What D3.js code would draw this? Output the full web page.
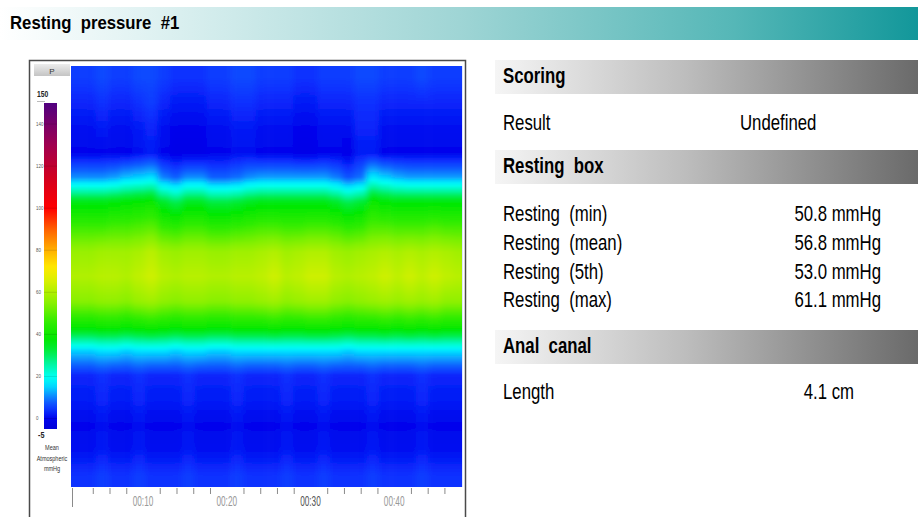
<!DOCTYPE html>
<html><head><meta charset="utf-8">
<script src="https://cdn.jsdelivr.net/npm/d3@7"></script>
<style>body{margin:0;background:#fff;} svg{display:block;font-family:"Liberation Sans",Arial,sans-serif;}</style>
</head><body><svg id="c" width="918" height="517"></svg>
<script>
// ---------- DATA ----------
const title = "Resting  pressure  #1";
// column sample times (s)
const times = [2.1,3.6,5.1,6.6,8.0,9.5,11.0,12.5,13.9,15.4,16.9,18.3,19.8,21.3,22.7,24.2,25.7,27.2,28.6,30.1,31.6,33.0,34.5,36.0,37.4,38.9,40.4,41.9,43.3,44.8,46.3,47.7];
const timeStart = 1.4, timeEnd = 48.1;
// sensor numbers, top (proximal) to bottom
const sensors = [1,2,3,4,5,6,7,8,9,10,11,12,13,14,15,16,17];
// pressure (mmHg) per sensor row, one value per time column
const pressure = [
 [5,5,6,5,5,6,6,5,4,4,4,5,5,6,6,5,5,5,4,4,5,5,5,6,6,5,5,5,6,5,5,5],
 [3,3,4,3,3,4,5,3,2,2,2,3,3,4,4,3,3,3,2,2,3,3,3,4,4,3,3,3,3,3,3,3],
 [1,1,2,1,1,2,3,1,0,0,0,1,1,2,2,1,1,1,0,0,1,1,1,3,3,1,1,1,1,1,1,1],
 [0,0,0,0,0,1,2,0,-1,-1,-1,0,0,1,1,0,0,0,-1,-1,0,0,-1,2,2,0,0,0,0,0,0,0],
 [11,11,11,12,14,15,16,10,8,11,11,8,8,9,11,12,12,12,12,12,12,10,7,9,17,15,13,12,12,12,12,12],
 [36,36,36,37,38,39,40,34,31,35,35,32,32,33,35,36,36,36,36,36,36,34,31,33,40,38,37,37,37,37,37,37],
 [47,47,47,48,48,49,50,46,45,47,47,45,45,46,47,48,48,47,47,48,48,47,45,46,49,49,48,48,48,49,48,48],
 [57,57,58,58,58,59,61,58,57,58,58,57,57,58,58,59,60,58,59,60,60,58,57,58,59,60,59,60,59,60,59,58],
 [60,60,61,61,60,62,64,61,60,61,61,60,60,61,61,62,64,61,62,64,64,61,60,61,62,64,62,64,62,64,62,61],
 [55,55,56,56,55,57,58,56,55,56,56,55,55,56,56,57,58,56,57,58,58,56,55,56,57,58,57,58,57,58,56,56],
 [40,40,41,41,40,41,42,41,40,41,41,40,40,41,41,41,42,41,41,42,42,41,40,41,41,42,41,42,41,42,41,41],
 [15,15,16,16,15,16,16,16,15,16,16,15,15,16,16,16,16,16,16,16,16,16,15,16,16,16,16,16,16,16,16,16],
 [3,3,4,3,3,4,3,3,3,4,3,3,3,4,3,3,3,4,3,3,4,3,3,3,4,3,3,3,4,3,3,3],
 [2,2,3,2,2,3,2,2,2,3,2,2,2,3,2,2,2,3,2,2,3,2,2,2,3,2,2,2,3,2,2,2],
 [0,0,1,0,0,1,0,0,0,1,0,0,0,1,0,0,0,1,0,0,1,0,0,0,1,0,0,0,1,0,0,0],
 [1,1,2,1,1,2,1,1,1,2,1,1,1,2,1,1,1,2,1,1,2,1,1,1,2,1,1,1,2,1,1,1],
 [4,4,5,4,4,5,4,4,4,5,4,4,4,5,4,4,4,5,4,4,5,4,4,4,5,4,4,4,5,4,4,4]
];
// colour map
const colorValues = [-5,0,4,8,12,16,20,26,32,38,46,54,60,66,72,80,90,100,115,130,150];
const colorHex = ["#0000d8","#0004ec","#0a30ff","#1060ff","#0aa0ff","#00e4ff","#00fff0","#00f5a0","#00ec40","#00e800","#30ec00","#80f000","#b0f000","#dcf000","#ffe800","#ffb000","#ff6000","#ff0000","#d00020","#a00050","#500080"];
const legendMin = -5, legendMax = 150;
const legendTicks = [0,20,40,60,80,100,120,140];
const legendUnits = ["Mean","Atmospheric","mmHg"];
// time axis
const minorTicks = [4,6,8,12,14,16,18,22,24,26,28,32,34,36,38,42,44,46];
const labelTimes = [10,20,30,40];
const timeLabels = ["00:10","00:20","00:30","00:40"];
// right panel
const scoringLabel = "Scoring", resultLabel = "Result", resultValue = "Undefined";
const restingHeader = "Resting  box";
const restingLabels = ["Resting  (min)","Resting  (mean)","Resting  (5th)","Resting  (max)"];
const restingValues = [50.8, 56.8, 53.0, 61.1];
const restingUnit = "mmHg";
const canalHeader = "Anal  canal", lengthLabel = "Length", lengthValue = 4.1, lengthUnit = "cm";

// ---------- DRAW ----------
const svg = d3.select("#c");
const defs = svg.append("defs");
const color = d3.scaleLinear().domain(colorValues).range(colorHex).interpolate(d3.interpolateRgb).clamp(true);

function txt(g, x, y, s, o = {}) {
  return g.append("text")
    .attr("transform", `translate(${x},${y}) scale(${o.sx || 1},1)`)
    .attr("font-size", o.size || 12)
    .attr("font-weight", o.weight || "normal")
    .attr("text-anchor", o.anchor || "start")
    .attr("fill", o.fill || "#000")
    .attr("font-style", o.style || "normal")
    .style("white-space", "pre")
    .text(s);
}

// title bar
const tg = defs.append("linearGradient").attr("id", "tg");
[[0,"#ffffff"],[0.15,"#e2f3f3"],[0.5,"#9fd5d5"],[0.8,"#55b7b7"],[1,"#12979a"]].forEach(d => tg.append("stop").attr("offset", d[0]).attr("stop-color", d[1]));
svg.append("rect").attr("x", 0).attr("y", 7).attr("width", 918).attr("height", 33).attr("fill", "url(#tg)");
txt(svg, 10, 29, title, {size: 18, weight: "bold", sx: 0.93});

// heatmap
const hm = {x0: 71, x1: 462, y0: 66, y1: 487};
const x = d3.scaleLinear().domain([timeStart, timeEnd]).range([hm.x0, hm.x1]);
const y = d3.scalePoint().domain(sensors).range([hm.y0, hm.y1]).padding(0.5);

defs.append("clipPath").attr("id", "hmclip").append("rect")
  .attr("x", hm.x0).attr("y", hm.y0).attr("width", hm.x1 - hm.x0).attr("height", hm.y1 - hm.y0);
const blur = defs.append("filter").attr("id", "hblur").attr("x", "-5%").attr("y", "-5%").attr("width", "110%").attr("height", "110%");
blur.append("feGaussianBlur").attr("stdDeviation", "3 0.6");

function valueAt(col, ypx) {
  const ys = sensors.map(s => y(s));
  if (ypx <= ys[0]) return pressure[0][col];
  if (ypx >= ys[ys.length - 1]) return pressure[ys.length - 1][col];
  let i = d3.bisectRight(ys, ypx) - 1;
  const t = (ypx - ys[i]) / (ys[i + 1] - ys[i]);
  return pressure[i][col] * (1 - t) + pressure[i + 1][col] * t;
}
times.forEach((t, k) => {
  const g = defs.append("linearGradient").attr("id", "col" + k)
    .attr("gradientUnits", "userSpaceOnUse").attr("x1", 0).attr("x2", 0).attr("y1", hm.y0).attr("y2", hm.y1);
  for (let p = hm.y0; p <= hm.y1; p += 3) {
    g.append("stop").attr("offset", (p - hm.y0) / (hm.y1 - hm.y0)).attr("stop-color", color(valueAt(k, p)));
  }
});
const hmOuter = svg.append("g").attr("clip-path", "url(#hmclip)");
const hmG = hmOuter.append("g").attr("filter", "url(#hblur)");
times.forEach((t, k) => {
  const left = k === 0 ? x(timeStart) - 15 : (x(times[k - 1]) + x(t)) / 2;
  const right = k === times.length - 1 ? x(timeEnd) + 15 : (x(t) + x(times[k + 1])) / 2;
  hmG.append("rect").attr("x", left).attr("y", hm.y0 - 5).attr("width", right - left + 0.5)
    .attr("height", hm.y1 - hm.y0 + 10).attr("fill", `url(#col${k})`);
});
svg.append("line").attr("x1", hm.x1 + 0.5).attr("x2", hm.x1 + 0.5).attr("y1", hm.y0).attr("y2", hm.y1)
  .attr("stroke", "#dfe6ff").attr("stroke-width", 1);

// time axis
const axisG = svg.append("g").attr("transform", `translate(0,${hm.y1 + 1})`);
axisG.call(d3.axisBottom(x).tickValues(minorTicks).tickSize(6).tickFormat(""));
axisG.select(".domain").remove();
axisG.selectAll(".tick line").attr("stroke", "#8a8a8a");
axisG.append("line").attr("x1", x(timeStart) + 1.5).attr("x2", x(timeStart) + 1.5).attr("y1", 0).attr("y2", 19).attr("stroke", "#8a8a8a");
labelTimes.forEach((t, i) => {
  txt(axisG, x(t), 18, timeLabels[i], {size: 15, sx: 0.55, anchor: "middle", fill: i === 2 ? "#555" : "#999"});
});

// frame
svg.append("path").attr("d", "M29.5,517V60.5H465.5V517").attr("fill", "none").attr("stroke", "#4a4a4a").attr("stroke-width", 1.5);

// legend
const pg = defs.append("linearGradient").attr("id", "pg").attr("x1", 0).attr("x2", 0).attr("y1", 0).attr("y2", 1);
pg.append("stop").attr("offset", 0).attr("stop-color", "#ececec");
pg.append("stop").attr("offset", 1).attr("stop-color", "#c4c4c4");
svg.append("rect").attr("x", 34).attr("y", 64).attr("width", 36).attr("height", 12).attr("fill", "url(#pg)");
txt(svg, 52, 73.5, "P", {size: 8, anchor: "middle", fill: "#333"});

const ly = d3.scaleLinear().domain([legendMin, legendMax]).range([429, 103]);
const lg = defs.append("linearGradient").attr("id", "lg").attr("gradientUnits", "userSpaceOnUse")
  .attr("x1", 0).attr("x2", 0).attr("y1", ly(legendMin)).attr("y2", ly(legendMax));
d3.range(legendMin, legendMax + 0.1, 2.5).forEach(v => lg.append("stop").attr("offset", (v - legendMin) / (legendMax - legendMin)).attr("stop-color", color(v)));
svg.append("rect").attr("x", 44).attr("y", ly(legendMax)).attr("width", 13).attr("height", ly(legendMin) - ly(legendMax)).attr("fill", "url(#lg)");
legendTicks.forEach(v => {
  svg.append("line").attr("x1", 44).attr("x2", 57).attr("y1", ly(v)).attr("y2", ly(v)).attr("stroke", "rgba(0,0,0,0.12)");
  txt(svg, 36, ly(v) + 2, String(v), {size: 5.5, fill: "#555", sx: 0.8});
});
txt(svg, 37, 97, String(legendMax), {size: 9, weight: "bold", sx: 0.75, fill: "#222"});
svg.append("line").attr("x1", 37).attr("x2", 45).attr("y1", 101.5).attr("y2", 101.5).attr("stroke", "#bbb");
txt(svg, 38, 438, String(legendMin), {size: 9, weight: "bold", sx: 0.8, fill: "#222"});
legendUnits.forEach((s, i) => txt(svg, 52, 450 + i * 10.5, s, {size: 6.5, anchor: "middle", fill: "#333", sx: 0.85}));

// right panel
const bg = defs.append("linearGradient").attr("id", "bg");
[[0,"#f5f5f5"],[0.45,"#bdbdbd"],[1,"#6a6a6a"]].forEach(d => bg.append("stop").attr("offset", d[0]).attr("stop-color", d[1]));
const rp = svg.append("g");
const SX = 0.78, FS = 21.5;
function header(yTop, label) {
  rp.append("rect").attr("x", 495).attr("y", yTop).attr("width", 423).attr("height", 34).attr("fill", "url(#bg)");
  txt(rp, 503, yTop + 23, label, {size: FS, weight: "bold", sx: SX});
}
header(60, scoringLabel);
txt(rp, 503, 130, resultLabel, {size: FS, sx: SX});
txt(rp, 740, 130, resultValue, {size: FS, sx: SX});
header(150, restingHeader);
restingLabels.forEach((s, i) => {
  txt(rp, 503, 221 + i * 28.8, s, {size: FS, sx: SX});
  txt(rp, 881, 221 + i * 28.8, `${restingValues[i].toFixed(1)} ${restingUnit}`, {size: FS, sx: SX, anchor: "end"});
});
header(330, canalHeader);
txt(rp, 503, 399, lengthLabel, {size: FS, sx: SX});
txt(rp, 854, 399, `${lengthValue.toFixed(1)} ${lengthUnit}`, {size: FS, sx: SX, anchor: "end"});
</script></body></html>
